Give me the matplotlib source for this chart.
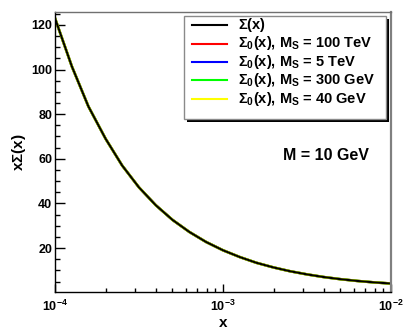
import numpy as np
import matplotlib
matplotlib.use('Agg')
import matplotlib.pyplot as plt
import matplotlib.ticker as mticker
from matplotlib.patches import Rectangle

plt.rcParams['font.family'] = ['Liberation Sans', 'DejaVu Sans']
plt.rcParams['font.weight'] = 'bold'
plt.rcParams['mathtext.fontset'] = 'custom'
plt.rcParams['mathtext.rm'] = 'Liberation Sans:bold'
plt.rcParams['mathtext.it'] = 'Liberation Sans:bold'
plt.rcParams['mathtext.bf'] = 'Liberation Sans:bold'
plt.rcParams['mathtext.default'] = 'rm'

# x values and x*Sigma(x)
x_vals = [1.00e-4, 1.26e-4, 1.58e-4, 2.00e-4, 2.51e-4, 3.16e-4, 3.98e-4, 5.01e-4, 6.31e-4, 7.94e-4,
          1.00e-3, 1.26e-3, 1.58e-3, 2.00e-3, 2.51e-3, 3.16e-3, 3.98e-3, 5.01e-3, 6.31e-3, 7.94e-3, 1.00e-2]
sigma = [123.0, 101.4, 83.5, 69.0, 57.0, 47.2, 39.2, 32.6, 27.2, 22.7,
         19.0, 15.95, 13.4, 11.3, 9.6, 8.2, 7.0, 6.04, 5.25, 4.61, 4.1]
# the Sigma_0 curves lie on top of Sigma(x) over the whole range
sigma0_100tev = sigma
sigma0_5tev = sigma
sigma0_300gev = sigma
sigma0_40gev = sigma

labels = [r'$\Sigma$(x)',
          r'$\Sigma_0$(x), M$_S$ = 100 TeV',
          r'$\Sigma_0$(x), M$_S$ = 5 TeV',
          r'$\Sigma_0$(x), M$_S$ = 300 GeV',
          r'$\Sigma_0$(x), M$_S$ = 40 GeV']
colors = ['black', '#ff0000', '#0000ff', '#00ff00', '#ffff00']

W, H = 403, 332
fig = plt.figure(figsize=(W / 100, H / 100), dpi=100)
ax = fig.add_axes([55 / W, 1 - 292 / H, 336 / W, 280 / H])

# coloured curves first, black one on top
ax.plot(x_vals, sigma0_100tev, color=colors[1], lw=1.8)
ax.plot(x_vals, sigma0_5tev, color=colors[2], lw=1.8)
ax.plot(x_vals, sigma0_300gev, color=colors[3], lw=1.8)
ax.plot(x_vals, sigma0_40gev, color=colors[4], lw=1.9)
ax.plot(x_vals, sigma, color=colors[0], lw=1.5)

ax.set_xscale('log')
ax.set_xlim(1e-4, 1e-2)
ax.set_ylim(0.3, 125.8)

ax.yaxis.set_major_locator(mticker.MultipleLocator(20))
ax.yaxis.set_minor_locator(mticker.MultipleLocator(5))
ax.yaxis.set_major_formatter(mticker.FuncFormatter(lambda v, p: '%d' % v if v > 0 else ''))
ax.xaxis.set_major_locator(mticker.LogLocator(base=10, numticks=5))
ax.xaxis.set_minor_locator(mticker.LogLocator(base=10, subs=np.arange(2, 10), numticks=12))
ax.xaxis.set_minor_formatter(mticker.NullFormatter())
ax.xaxis.set_major_formatter(mticker.FuncFormatter(lambda v, p: r'$10^{%d}$' % round(np.log10(v))))

ax.tick_params(axis='y', which='major', direction='in', length=7.2, width=1, pad=2, labelsize=9)
ax.tick_params(axis='y', which='minor', direction='in', length=3.6, width=1)
ax.tick_params(axis='x', which='major', direction='in', length=6, width=1, pad=5, labelsize=9)
ax.tick_params(axis='x', which='minor', direction='in', length=3.2, width=1)
ax.tick_params(top=False, right=False, which='both')

for s in ['left', 'bottom']:
    ax.spines[s].set_color('black')
    ax.spines[s].set_linewidth(1.0)
ax.spines['top'].set_color('#707070')
ax.spines['top'].set_linewidth(1.0)
ax.spines['right'].set_color('#808080')
ax.spines['right'].set_linewidth(1.6)

ax.set_ylabel(r'x$\Sigma$(x)', fontsize=11, fontweight='bold')
ax.yaxis.set_label_coords(-0.080, 0.5)
fig.text(223 / W, 1 - 323 / H, 'x', fontsize=11, fontweight='bold', ha='center', va='center')

fig.text(283 / W, 1 - 155 / H, 'M = 10 GeV', fontsize=11.5, fontweight='bold', ha='left', va='center')

# legend box drawn in figure pixels
def px(x, y):
    return x / W, 1 - y / H

lx0, lx1, ly0, ly1 = 184, 386, 16, 119
fig.patches.append(Rectangle(px(lx0 + 3, ly1 + 3), (lx1 - lx0) / W, (ly1 - ly0) / H,
                             transform=fig.transFigure, facecolor='black', edgecolor='none', zorder=5))
fig.patches.append(Rectangle(px(lx0, ly1), (lx1 - lx0) / W, (ly1 - ly0) / H,
                             transform=fig.transFigure, facecolor='white', edgecolor='#8a8a8a', lw=1, zorder=6))
rows = [25, 43.5, 62, 80, 98.5]
for i in range(len(labels)):
    xa, ya = px(192, rows[i])
    xb, _ = px(227, rows[i])
    fig.add_artist(plt.Line2D([xa, xb], [ya, ya], color=colors[i], lw=1.5, zorder=7))
    fig.text(238 / W, ya, labels[i], fontsize=10.5, fontweight='bold', ha='left', va='center', zorder=8)

plt.savefig('out.png', dpi=100)
plt.close()
